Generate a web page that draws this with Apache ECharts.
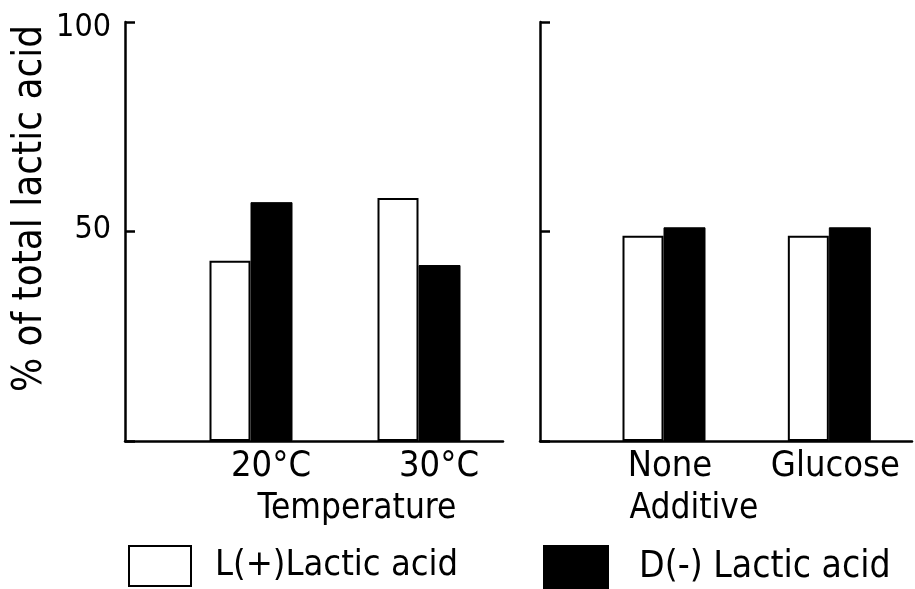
<!DOCTYPE html>
<html>
<head>
<meta charset="utf-8">
<script src="https://cdn.jsdelivr.net/npm/echarts@6/dist/echarts.min.js"></script>
<style>html,body{margin:0;padding:0;background:#fff}#c{width:915px;height:589px}</style>
</head>
<body>
<div id="c"></div>
<script>
// ---- data ----
var tempCategories = ['20°C', '30°C'];
var additiveCategories = ['None', 'Glucose'];
var lLacticTemp = [43, 58];
var dLacticTemp = [57, 42];
var lLacticAdditive = [49, 49];
var dLacticAdditive = [51, 51];
var yTicks = [0, 50, 100];
var seriesNames = ['L(+)Lactic acid', 'D(-) Lactic acid'];
var axisNames = ['Temperature', 'Additive'];
var yName = '% of total lactic acid';

// ---- layout helpers (category slots on a padded axis) ----
var SLOT_COUNT = 10;
var SLOTS = [3, 7];
function padCats(cats) {
  var a = [];
  for (var i = 0; i < SLOT_COUNT; i++) a.push('');
  cats.forEach(function (c, k) { a[SLOTS[k]] = c; });
  return a;
}
function padVals(vals) {
  var a = [];
  for (var i = 0; i < SLOT_COUNT; i++) a.push(null);
  vals.forEach(function (v, k) { a[SLOTS[k]] = v; });
  return a;
}

var NARROW = "'Liberation Sans Narrow', 'DejaVu Sans Condensed', 'Liberation Sans', sans-serif";
var REG = "'DejaVu Sans Condensed', 'Liberation Sans', sans-serif";

function xAxisCfg(gi, cats, name, labelPad, namePad) {
  return {
    type: 'category', gridIndex: gi, data: padCats(cats), boundaryGap: false,
    axisLine: { lineStyle: { color: '#000', width: 2.5 } },
    axisTick: { show: false },
    axisLabel: { interval: 0, color: '#000', fontFamily: NARROW, fontSize: 36, margin: 8, padding: labelPad },
    splitLine: { show: false },
    name: name, nameLocation: 'middle', nameGap: 50,
    nameTextStyle: { color: '#000', fontFamily: NARROW, fontSize: 35, padding: namePad }
  };
}
function yAxisCfg(gi, showLabels) {
  return {
    type: 'value', gridIndex: gi, min: yTicks[0], max: yTicks[yTicks.length - 1], interval: yTicks[1] - yTicks[0],
    axisLine: { show: true, lineStyle: { color: '#000', width: 2.5 } },
    axisTick: { show: true, inside: true, length: 10, lineStyle: { color: '#000', width: 2.5 } },
    axisLabel: {
      show: showLabels, color: '#000', fontFamily: NARROW, fontSize: 32, margin: 14,
      formatter: function (v) {
        if (v === yTicks[0]) return '';
        return v === yTicks[yTicks.length - 1] ? '{top|' + v + '}' : '{mid|' + v + '}';
      },
      rich: {
        top: { fontFamily: NARROW, fontSize: 32, color: '#000', padding: [12, 0, 0, 0] },
        mid: { fontFamily: NARROW, fontSize: 32, color: '#000', padding: [0, 0, 4, 0] }
      }
    },
    splitLine: { show: false },
    name: showLabels ? yName : '', nameLocation: 'middle', nameRotate: 90, nameGap: 74,
    nameTextStyle: { color: '#000', fontFamily: REG, fontSize: 40, padding: [0, 0, 0, 46] }
  };
}
function barL(gi, vals) {
  return { name: seriesNames[0], type: 'bar', xAxisIndex: gi, yAxisIndex: gi, data: padVals(vals),
    barWidth: 41, barGap: '0%', itemStyle: { color: '#fff', borderColor: '#000', borderWidth: 2 } };
}
function barD(gi, vals) {
  return { name: seriesNames[1], type: 'bar', xAxisIndex: gi, yAxisIndex: gi, data: padVals(vals),
    barWidth: 42, barGap: '0%', itemStyle: { color: '#000', borderColor: '#000', borderWidth: 1 } };
}

var chart = echarts.init(document.getElementById('c'), null, { renderer: 'canvas' });
chart.setOption({
  backgroundColor: '#fff',
  animation: false,
  grid: [
    { left: 125, top: 22, width: 378, height: 419 },
    { left: 540, top: 22, width: 378, height: 419 }
  ],
  xAxis: [
    xAxisCfg(0, tempCategories, axisNames[0], [0, 0, 0, 40], [0, 0, 0, 86]),
    xAxisCfg(1, additiveCategories, axisNames[1], [0, 0, 0, 12], [0, 64, 0, 0])
  ],
  yAxis: [yAxisCfg(0, true), yAxisCfg(1, false)],
  legend: [
    { data: [seriesNames[0]], left: 128, top: 545, padding: 0, itemWidth: 62, itemHeight: 40, icon: 'rect',
      itemStyle: { color: '#fff', borderColor: '#000', borderWidth: 2 },
      textStyle: { color: '#000', fontFamily: NARROW, fontSize: 36, padding: [0, 0, 0, 19] } },
    { data: [seriesNames[1]], left: 543, top: 545, padding: 0, itemWidth: 64, itemHeight: 42, icon: 'rect',
      itemStyle: { color: '#000' },
      textStyle: { color: '#000', fontFamily: NARROW, fontSize: 37, padding: [0, 0, 0, 26] } }
  ],
  series: [
    barL(0, lLacticTemp), barD(0, dLacticTemp),
    barL(1, lLacticAdditive), barD(1, dLacticAdditive)
  ]
});
</script>
</body>
</html>
